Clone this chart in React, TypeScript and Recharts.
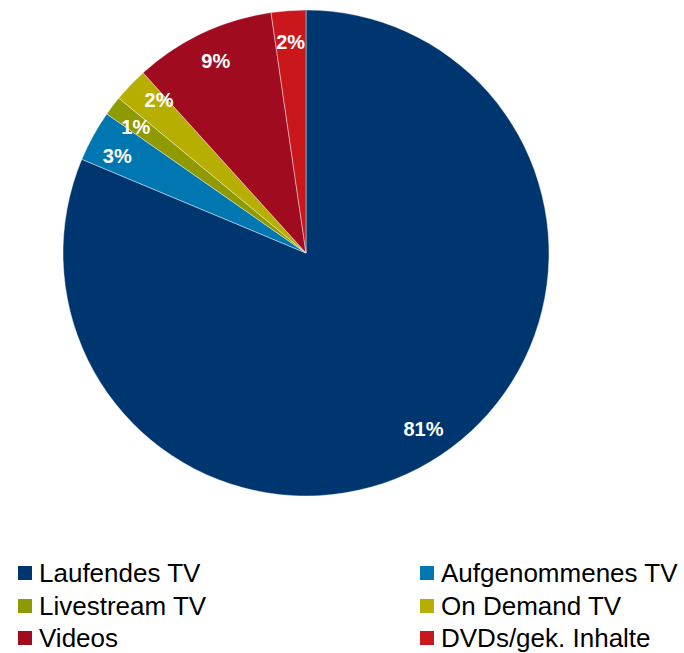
import React from "react";
import { PieChart, Pie, Cell } from "recharts";

const categories = [
  "Laufendes TV",
  "Aufgenommenes TV",
  "Livestream TV",
  "On Demand TV",
  "Videos",
  "DVDs/gek. Inhalte",
];
const shares = [81.3, 3.4, 1.3, 2.3, 9.4, 2.3];
const colors = ["#00366F", "#0077B1", "#8E9A00", "#B6AE00", "#A00B20", "#C9171B"];

const data = categories.map((name, i) => ({ name, value: shares[i] }));

const RAD = Math.PI / 180;

// label angles (degrees clockwise from 12 o'clock), spread apart when too close
const total = shares.reduce((a, b) => a + b, 0);
const labelAngles: number[] = (() => {
  let acc = 0;
  const mids = shares.map((v) => {
    const start = acc;
    acc += (v / total) * 360;
    return (start + acc) / 2;
  });
  const minGap = 9.5;
  for (let iter = 0; iter < 20; iter++) {
    for (let i = 1; i < mids.length; i++) {
      const gap = mids[i] - mids[i - 1];
      if (gap < minGap) {
        const push = (minGap - gap) / 2;
        mids[i - 1] -= push;
        mids[i] += push;
      }
    }
  }
  return mids;
})();

const renderLabel = (props: any) => {
  const { cx, cy, index, percent } = props;
  const r = 212;
  const a = labelAngles[index] * RAD;
  const x = cx + r * Math.sin(a);
  const y = cy - r * Math.cos(a);
  return (
    <text
      x={x}
      y={y}
      fill="#ffffff"
      textAnchor="middle"
      dominantBaseline="central"
      fontFamily="'Liberation Sans', Arial, sans-serif"
      fontWeight="bold"
      fontSize={20}
    >
      {Math.round(percent * 100)}%
    </text>
  );
};

const legendRows = [
  [0, 1],
  [2, 3],
  [4, 5],
];

export default function App() {
  return (
    <div
      style={{
        position: "absolute",
        left: 0,
        top: 0,
        width: 684,
        height: 653,
        background: "#ffffff",
        fontFamily: "'Liberation Sans', Arial, sans-serif",
      }}
    >
      <PieChart width={684} height={520} margin={{ top: 0, right: 0, bottom: 0, left: 0 }}>
        <Pie
          data={data}
          dataKey="value"
          nameKey="name"
          cx={306}
          cy={253}
          outerRadius={243}
          innerRadius={0}
          startAngle={90}
          endAngle={-270}
          stroke="rgba(255,255,255,0.55)"
          strokeWidth={0.75}
          label={renderLabel}
          labelLine={false}
          isAnimationActive={false}
        >
          {data.map((d, i) => (
            <Cell key={d.name} fill={colors[i]} />
          ))}
        </Pie>
      </PieChart>
      {legendRows.map((row, ri) =>
        row.map((idx, ci) => (
          <div
            key={categories[idx]}
            style={{
              position: "absolute",
              left: ci === 0 ? 18 : 420,
              top: 557 + ri * 32.5,
              height: 32,
              display: "flex",
              alignItems: "center",
              whiteSpace: "nowrap",
            }}
          >
            <span
              style={{
                display: "inline-block",
                width: 14,
                height: 14,
                background: colors[idx],
                marginRight: 7,
              }}
            />
            <span style={{ fontSize: 26, color: "#000000", lineHeight: "32px" }}>
              {categories[idx]}
            </span>
          </div>
        ))
      )}
    </div>
  );
}
